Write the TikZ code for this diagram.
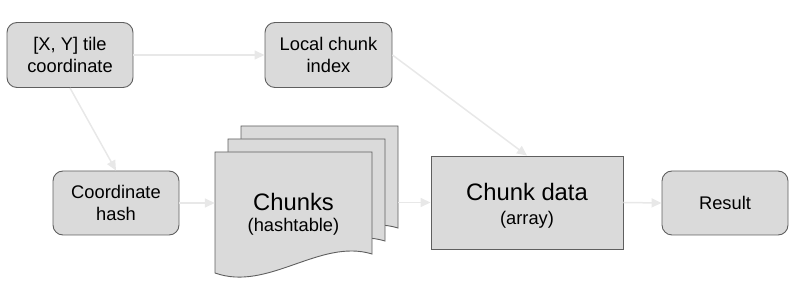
\documentclass[tikz,border=0pt]{standalone}
\usepackage{fontspec}
\setmainfont{Liberation Sans}
\usetikzlibrary{arrows.meta}
\definecolor{boxfill}{RGB}{218,218,218}
\definecolor{boxline}{RGB}{95,95,95}
\definecolor{arrowcol}{RGB}{232,232,232}
\tikzset{
  basebox/.style={draw=boxline, fill=boxfill, line width=0.9pt, align=center,
    font=\fontsize{18.3}{21.7}\selectfont, inner sep=0pt},
  roundbox/.style={basebox, rounded corners=10pt, minimum width=126pt, minimum height=65pt},
  sheet/.style={draw=boxline, fill=boxfill, line width=0.9pt},
  anchorbox/.style={draw=none, inner sep=0pt},
  bigtext/.style={anchor=base, font=\fontsize{23.8}{26}\selectfont, inner sep=0pt},
  subtext/.style={anchor=base, font=\fontsize{18.3}{21}\selectfont, inner sep=0pt},
  arr/.style={draw=arrowcol, line width=1.5pt, -{Triangle[length=10pt,width=9pt,fill=arrowcol]}}
}
\begin{document}
\begin{tikzpicture}[x=1pt,y=-1pt]
\useasboundingbox (0,0) rectangle (811,296);
% nodes
\node[roundbox] (tile) at (70,55) {[X, Y] tile\\coordinate};
\node[roundbox, minimum width=127pt] (local) at (328.5,55) {Local chunk\\index};
\node[roundbox, minimum height=64pt] (hash) at (116,203) {Coordinate\\hash};
\node[roundbox, minimum height=64pt] (result) at (725,203) {Result};
\node[basebox, minimum width=192pt, minimum height=93pt] (data) at (527,202.5) {};
\node[bigtext] (datatitle) at (527,200.5) {Chunk data};
\node[subtext] (datasub) at (527,224.5) {(array)};
% document stack
\foreach \d in {26,13,0}{
  \draw[sheet, shift={(\d,-\d)}] (215,152) -- (372,152) -- (372,254)
    .. controls (320,238) and (268,292) .. (215,273) -- cycle;
}
\node[anchorbox, minimum width=157pt, minimum height=102pt] (front) at (293.5,203) {};
\node[anchorbox, minimum width=157pt, minimum height=102pt] (back) at (319.5,177) {};
\node[bigtext] (chunkstitle) at (293.5,211) {Chunks};
\node[subtext] (chunkssub) at (293.5,232) {(hashtable)};
% connectors
\draw[arr] (tile.east) -- (local.west);
\draw[arr] (tile.south) -- (hash.north);
\draw[arr] (local.east) -- (data.north);
\draw[arr] (hash.east) -- (front.west);
\draw[arr] (back.east |- data.west) -- (data.west);
\draw[arr] (data.east) -- (result.west);
\end{tikzpicture}
\end{document}
